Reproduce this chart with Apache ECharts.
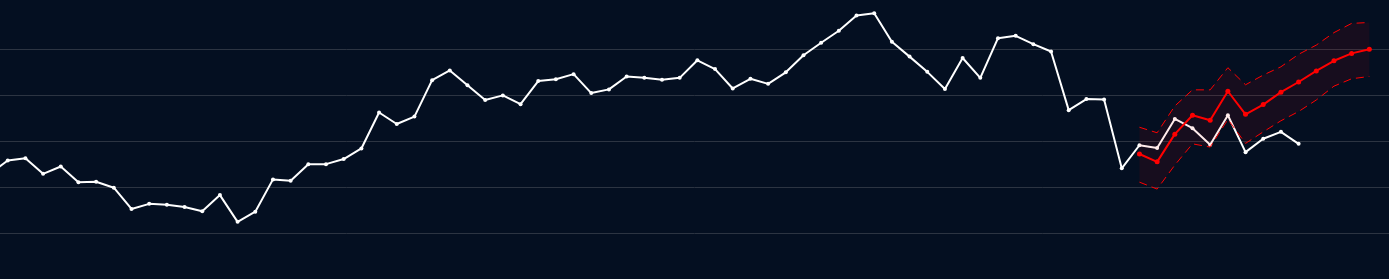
<!DOCTYPE html>
<html>
<head>
<meta charset="utf-8">
<script src="https://cdn.jsdelivr.net/npm/echarts@6/dist/echarts.min.js"></script>
<style>
  html, body { margin: 0; padding: 0; background: #040f21; }
  #chart { width: 1389px; height: 279px; }
</style>
</head>
<body>
<div id="chart"></div>
<script>
// Period indices (x categories); period -1 lies just left of the visible window,
// periods 78-79 are empty slots to the right of the last forecast
const periods = [];
for (let p = -1; p <= 79; p++) periods.push(String(p));

// Actual observed values, periods -1 .. 73
const actualValues = [
  22.9, 25.8, 26.3, 22.9, 24.5, 21.1, 21.2, 19.9, 15.3, 16.4,
  16.2, 15.7, 14.8, 18.3, 12.5, 14.7, 21.7, 21.4, 25.0, 25.0,
  26.1, 28.4, 36.2, 33.7, 35.3, 43.2, 45.3, 42.1, 38.9, 39.9,
  38.0, 43.0, 43.4, 44.5, 40.4, 41.2, 44.0, 43.7, 43.3, 43.7,
  47.5, 45.6, 41.4, 43.5, 42.4, 44.9, 48.6, 51.3, 53.9, 57.2,
  57.7, 51.5, 48.3, 45.0, 41.3, 48.0, 43.7, 52.3, 52.8, 51.0,
  49.4, 36.7, 39.1, 39.0, 24.1, 29.1, 28.5, 34.8, 32.8, 29.2,
  35.6, 27.6, 30.5, 32.0, 29.4
];
const actualStart = -1;

// Forecast (periods 64 .. 77)
const forecastStart = 64;
const forecastValues = [27.2, 25.5, 31.5, 35.6, 34.5, 40.8, 35.8, 37.9, 40.6, 42.8, 45.2, 47.4, 49.0, 49.9];
const forecastUpper  = [33.0, 31.8, 37.6, 41.1, 41.1, 45.9, 42.2, 44.3, 46.1, 48.8, 50.8, 53.5, 55.5, 55.7];
const forecastLower  = [21.1, 19.6, 24.8, 29.4, 28.7, 34.7, 29.5, 32.0, 34.4, 36.4, 38.9, 41.9, 43.5, 44.0];

// Gridline values
const yTicks = [0, 10, 20, 30, 40, 50];

function align(values, start) {
  const out = periods.map(() => '-');
  const off = periods.indexOf(String(start));
  values.forEach((v, i) => { out[off + i] = v; });
  return out;
}
const actualData = align(actualValues, actualStart);
const forecastData = align(forecastValues, forecastStart);
const lowerData = align(forecastLower, forecastStart);
const bandData = align(forecastUpper.map((v, i) => +(v - forecastLower[i]).toFixed(2)), forecastStart);

const chart = echarts.init(document.getElementById('chart'), null, { renderer: 'canvas' });
chart.setOption({
  backgroundColor: '#040f21',
  animation: false,
  grid: {
    left: -9.96, right: -15.7, top: 4, bottom: -0.55,
    containLabel: false,
    outerBoundsMode: 'none'
  },
  xAxis: {
    type: 'category',
    data: periods,
    boundaryGap: false,
    axisLine: { show: false },
    axisTick: { show: false },
    axisLabel: { show: false },
    splitLine: { show: false }
  },
  yAxis: {
    type: 'value',
    min: yTicks[0],
    max: 59.7,
    interval: 10,
    axisLine: { show: false },
    axisTick: { show: false },
    axisLabel: { show: false },
    splitLine: {
      show: true,
      showMinLine: false,
      showMaxLine: false,
      lineStyle: { color: '#2c3442', width: 1 }
    }
  },
  series: [
    {
      name: 'Actual',
      type: 'line',
      data: actualData,
      symbol: 'circle',
      symbolSize: 4,
      showAllSymbol: true,
      itemStyle: { color: '#ffffff' },
      lineStyle: { color: '#ffffff', width: 2 },
      z: 2
    },
    {
      name: 'Lower',
      type: 'line',
      data: lowerData,
      stack: 'ci',
      symbol: 'none',
      lineStyle: { color: '#ff0000', width: 1, type: [8, 5] },
      z: 3
    },
    {
      name: 'Band',
      type: 'line',
      data: bandData,
      stack: 'ci',
      symbol: 'none',
      lineStyle: { color: '#ff0000', width: 1, type: [8, 5] },
      areaStyle: { color: 'rgba(255,0,0,0.11)' },
      z: 3
    },
    {
      name: 'Forecast',
      type: 'line',
      data: forecastData,
      symbol: 'circle',
      symbolSize: 5,
      showAllSymbol: true,
      itemStyle: { color: '#ff0000' },
      lineStyle: { color: '#ff0000', width: 2 },
      z: 4
    }
  ]
});
</script>
</body>
</html>
